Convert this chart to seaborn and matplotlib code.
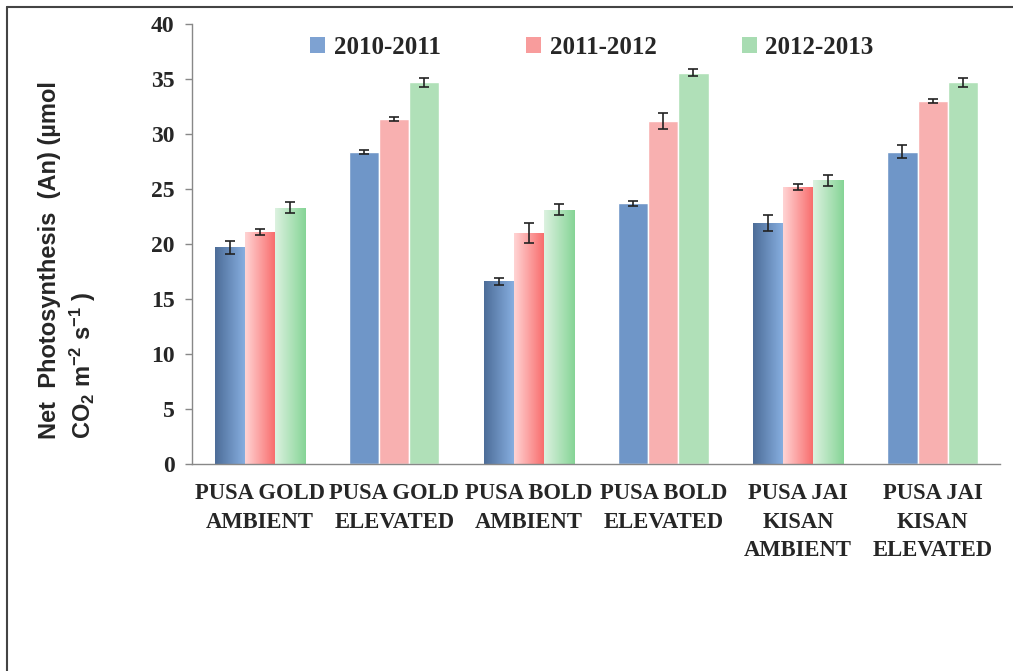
import numpy as np
import pandas as pd
import seaborn as sns
import matplotlib.pyplot as plt
from matplotlib.lines import Line2D
from matplotlib.patches import Patch
from matplotlib.container import BarContainer
from matplotlib.colors import LinearSegmentedColormap

# +----------- Dados -----------
categorias = ["PUSA GOLD\nAMBIENT", "PUSA GOLD\nELEVATED", "PUSA BOLD\nAMBIENT",
              "PUSA BOLD\nELEVATED", "PUSA JAI\nKISAN\nAMBIENT", "PUSA JAI\nKISAN\nELEVATED"]
anos = ["2010-2011", "2011-2012", "2012-2013"]
v_2010 = [19.7, 28.4, 16.6, 23.7, 21.9, 28.4]
v_2011 = [21.1, 31.4, 21.0, 31.2, 25.2, 33.0]
v_2012 = [23.3, 34.7, 23.1, 35.6, 25.8, 34.7]
e_2010 = [0.6, 0.2, 0.3, 0.2, 0.7, 0.6]
e_2011 = [0.3, 0.2, 0.9, 0.7, 0.3, 0.2]
e_2012 = [0.5, 0.4, 0.5, 0.3, 0.5, 0.4]

df = pd.DataFrame({
    "categoria": categorias * 3,
    "ano": np.repeat(anos, len(categorias)),
    "valor": v_2010 + v_2011 + v_2012,
})
erros = [e_2010, e_2011, e_2012]

cores = ["#6f96c8", "#f8b0b0", "#b0e0b8"]
# gradientes (esquerda -> direita) para os grupos AMBIENT
grad = [("#4d6d98", "#88b0e2"), ("#ffd4d4", "#f86a6a"), ("#dcf2e0", "#86d496")]

sns.set_style("white")
plt.rcParams["mathtext.fontset"] = "custom"
plt.rcParams["mathtext.bf"] = "Liberation Sans:bold"
plt.rcParams["mathtext.rm"] = "Liberation Sans:bold"
plt.rcParams["mathtext.default"] = "bf"

fig = plt.figure(figsize=(10.13, 6.71), dpi=100)
ax = fig.add_axes([0.19, 0.3085, 0.797, 0.6555])

sns.barplot(data=df, x="categoria", y="valor", hue="ano", palette=cores,
            width=0.67, saturation=1, errorbar=None, legend=False, ax=ax)

xlim = (-0.5, len(categorias) - 0.5)
ylim = (0, 40)

barras = [c for c in ax.containers if isinstance(c, BarContainer)]
for k, cont in enumerate(barras):
    for i, bar in enumerate(cont.patches):
        x0 = bar.get_x()
        w = bar.get_width()
        h = bar.get_height()
        if i % 2 == 0:
            cmap = LinearSegmentedColormap.from_list("g", grad[k])
            img = ax.imshow(np.linspace(0, 1, 64).reshape(1, -1), cmap=cmap,
                            extent=[x0, x0 + w, 0, h], aspect="auto", zorder=bar.get_zorder())
            img.set_clip_path(bar)
        ax.errorbar(x0 + w / 2, h, yerr=erros[k][i], fmt="none", ecolor="#222222",
                    elinewidth=1.2, capsize=3.5, capthick=1.2, zorder=5)

ax.set_xlim(*xlim)
ax.set_ylim(*ylim)
ax.set_yticks(range(0, 41, 5))
ax.set_xlabel("")
ax.set_ylabel("")

serif = ["Liberation Serif", "DejaVu Serif"]
for lab in ax.get_yticklabels():
    lab.set_fontfamily(serif)
    lab.set_fontweight("bold")
    lab.set_fontsize(17)
ax.set_xticks(range(len(categorias)))
ax.set_xticklabels(categorias, fontfamily=serif, fontweight="bold", fontsize=16.3,
                   linespacing=1.45, va="top")
ax.set_xticks(np.arange(-0.5, len(categorias), 1), minor=True)
ax.tick_params(axis="x", which="major", length=0, pad=14)
ax.tick_params(axis="x", which="minor", length=6, color="#888888", width=1)
ax.tick_params(axis="y", length=5, color="#888888", width=1, pad=8, left=True)

for s in ["top", "right"]:
    ax.spines[s].set_visible(False)
for s in ["left", "bottom"]:
    ax.spines[s].set_color("#888888")
    ax.spines[s].set_linewidth(1)

handles = [Patch(facecolor=c, edgecolor="none") for c in ["#7ea2d2", "#f89c9c", "#a8dcb2"]]
leg = ax.legend(handles, anos, ncol=3, frameon=False, loc="upper center",
                bbox_to_anchor=(0.495, 1.025), handlelength=0.6, handleheight=0.6,
                handletextpad=0.35, columnspacing=3.4,
                prop={"family": serif, "weight": "bold", "size": 18})

fig.text(0.067, 0.612,
         "Net  Photosynthesis  (An) (µmol\nCO$_2$ m$^{-2}$ s$^{-1}$ )",
         rotation=90, ha="center", va="center", multialignment="left",
         fontfamily="Liberation Sans", fontweight="bold", fontsize=17, linespacing=1.3)

# moldura (topo e esquerda)
fig.add_artist(Line2D([7 / 1013, 1], [1 - 7 / 671, 1 - 7 / 671], color="#444444", lw=1.5,
                      transform=fig.transFigure))
fig.add_artist(Line2D([7 / 1013, 7 / 1013], [0, 1 - 7 / 671], color="#444444", lw=1.5,
                      transform=fig.transFigure))

fig.savefig("out.png", dpi=100)
